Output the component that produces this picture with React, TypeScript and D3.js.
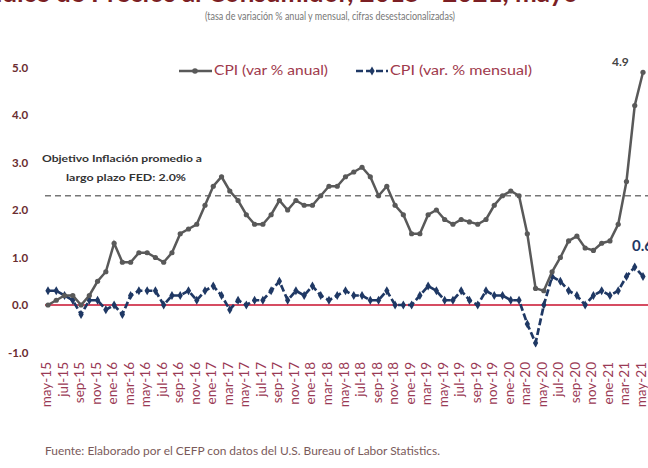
import React from "react";
import * as d3 from "d3";

// meses may-15 .. may-21
const months = [
  "may-15","jun-15","jul-15","ago-15","sep-15","oct-15","nov-15","dic-15",
  "ene-16","feb-16","mar-16","abr-16","may-16","jun-16","jul-16","ago-16","sep-16","oct-16","nov-16","dic-16",
  "ene-17","feb-17","mar-17","abr-17","may-17","jun-17","jul-17","ago-17","sep-17","oct-17","nov-17","dic-17",
  "ene-18","feb-18","mar-18","abr-18","may-18","jun-18","jul-18","ago-18","sep-18","oct-18","nov-18","dic-18",
  "ene-19","feb-19","mar-19","abr-19","may-19","jun-19","jul-19","ago-19","sep-19","oct-19","nov-19","dic-19",
  "ene-20","feb-20","mar-20","abr-20","may-20","jun-20","jul-20","ago-20","sep-20","oct-20","nov-20","dic-20",
  "ene-21","feb-21","mar-21","abr-21","may-21",
];

// CPI var % anual
const cpiAnual = [
  0.0, 0.1, 0.2, 0.2, 0.0, 0.2, 0.5, 0.7,
  1.3, 0.9, 0.9, 1.1, 1.1, 1.0, 0.9, 1.1, 1.5, 1.6, 1.7, 2.1,
  2.5, 2.7, 2.4, 2.2, 1.9, 1.7, 1.7, 1.9, 2.2, 2.0, 2.2, 2.1,
  2.1, 2.3, 2.5, 2.5, 2.7, 2.8, 2.9, 2.7, 2.3, 2.5, 2.1, 1.9,
  1.5, 1.5, 1.9, 2.0, 1.8, 1.7, 1.8, 1.75, 1.7, 1.8, 2.1, 2.3,
  2.4, 2.3, 1.5, 0.35, 0.3, 0.7, 1.0, 1.35, 1.45, 1.2, 1.15, 1.3,
  1.35, 1.7, 2.6, 4.2, 4.9,
];

// CPI var % mensual
const cpiMensual = [
  0.3, 0.3, 0.2, 0.1, -0.2, 0.1, 0.1, -0.1,
  0.0, -0.2, 0.2, 0.3, 0.3, 0.3, 0.0, 0.2, 0.2, 0.3, 0.1, 0.3,
  0.4, 0.2, -0.1, 0.1, 0.0, 0.1, 0.1, 0.3, 0.5, 0.1, 0.3, 0.2,
  0.4, 0.2, 0.1, 0.2, 0.3, 0.2, 0.2, 0.1, 0.1, 0.3, 0.0, 0.0,
  0.0, 0.2, 0.4, 0.3, 0.1, 0.1, 0.3, 0.1, 0.0, 0.3, 0.2, 0.2,
  0.1, 0.1, -0.4, -0.8, 0.0, 0.6, 0.5, 0.3, 0.2, 0.0, 0.2, 0.3,
  0.2, 0.3, 0.6, 0.8, 0.6,
];

const yTicks = [5, 4, 3, 2, 1, 0, -1];
// etiquetas cada dos meses
const xLabels = [
  "may-15","jul-15","sep-15","nov-15","ene-16","mar-16","may-16","jul-16","sep-16","nov-16",
  "ene-17","mar-17","may-17","jul-17","sep-17","nov-17","ene-18","mar-18","may-18","jul-18",
  "sep-18","nov-18","ene-19","mar-19","may-19","jul-19","sep-19","nov-19","ene-20","mar-20",
  "may-20","jul-20","sep-20","nov-20","ene-21","mar-21","may-21",
];
const objetivo = 2.3;

const W = 648;
const H = 468;
const font = "'Lato', 'DejaVu Sans', sans-serif";

export default function App() {
  const x = d3.scalePoint<string>().domain(months).range([48, 643]);
  const y = d3.scaleLinear().domain([-1, 5]).range([352.5, 67.5]);

  const lineA = d3.line<number>().x((_, i) => x(months[i])!).y(d => y(d));
  const diamond = d3.symbol().type(d3.symbolDiamond).size(24)();

  return (
    <svg width={W} height={H} style={{ position: "absolute", left: 0, top: 0, background: "#fff" }}>
      {/* titulo cortado */}
      <text x={-20} y={2} fontFamily={font} fontWeight="bold" fontSize={26} fill="#7b1f24">
        Índice de Precios al Consumidor, 2015 - 2021, mayo
      </text>
      <text x={205} y={20} fontFamily={font} fontSize={11} fill="#777" textLength={250} lengthAdjust="spacingAndGlyphs">
        (tasa de variación % anual y mensual, cifras desestacionalizadas)
      </text>

      {/* eje y */}
      {yTicks.map(t => (
        <text key={t} x={t < 0 ? 8 : 12} y={y(t) + 4} fontFamily={font} fontWeight="bold" fontSize={11.5} fill="#6a2c30">
          {t.toFixed(1)}
        </text>
      ))}

      {/* objetivo FED */}
      <line x1={45} x2={W} y1={y(objetivo)} y2={y(objetivo)} stroke="#777" strokeWidth={1.4} strokeDasharray="6,4" />
      <text x={42} y={162} fontFamily={font} fontWeight="bold" fontSize={10} fill="#333" textLength={160} lengthAdjust="spacingAndGlyphs">
        Objetivo Inflación promedio a
      </text>
      <text x={66} y={181} fontFamily={font} fontWeight="bold" fontSize={10} fill="#333" textLength={120} lengthAdjust="spacingAndGlyphs">
        largo plazo FED: 2.0%
      </text>

      {/* linea cero */}
      <line x1={45} x2={W} y1={y(0)} y2={y(0)} stroke="#c8102e" strokeWidth={1.6} />

      {/* serie mensual */}
      <path d={lineA(cpiMensual)!} fill="none" stroke="#1f3864" strokeWidth={2.7} strokeDasharray="7,3" />
      {cpiMensual.map((d, i) => (
        <path key={i} d={diamond!} transform={`translate(${x(months[i])},${y(d)})`} fill="#1f3864" />
      ))}

      {/* serie anual */}
      <path d={lineA(cpiAnual)!} fill="none" stroke="#595959" strokeWidth={2.5} />
      {cpiAnual.map((d, i) => (
        <circle key={i} cx={x(months[i])} cy={y(d)} r={2.6} fill="#595959" />
      ))}

      <text x={612} y={66} fontFamily={font} fontWeight="bold" fontSize={12} fill="#444">4.9</text>
      <text x={632} y={251} fontFamily={font} fontWeight="bold" fontSize={15} fill="#1f3864">0.6</text>

      {/* leyenda */}
      <line x1={179} x2={212} y1={71} y2={71} stroke="#595959" strokeWidth={2.4} />
      <circle cx={195} cy={71} r={2.8} fill="#595959" />
      <text x={214} y={75} fontFamily={font} fontSize={12.5} fill="#a03a4c" textLength={114} lengthAdjust="spacingAndGlyphs">
        CPI (var % anual)
      </text>
      <line x1={356} x2={388} y1={71} y2={71} stroke="#1f3864" strokeWidth={2.6} strokeDasharray="7,3" />
      <path d={diamond!} transform="translate(372,71)" fill="#1f3864" />
      <text x={390} y={75} fontFamily={font} fontSize={12.5} fill="#a03a4c" textLength={142} lengthAdjust="spacingAndGlyphs">
        CPI (var. % mensual)
      </text>

      {/* eje x */}
      {xLabels.map((m, i) => (
        <text key={m} transform={`translate(${x(months[i * 2])! + 3},362) rotate(-90)`} textAnchor="end"
          fontFamily={font} fontSize={13.5} fill="#9a3a55">
          {m}
        </text>
      ))}

      <text x={45} y={455} fontFamily={font} fontSize={11} fill="#7a5a5a" textLength={395} lengthAdjust="spacingAndGlyphs">
        Fuente: Elaborado por el CEFP con datos del U.S. Bureau of Labor Statistics.
      </text>
    </svg>
  );
}
